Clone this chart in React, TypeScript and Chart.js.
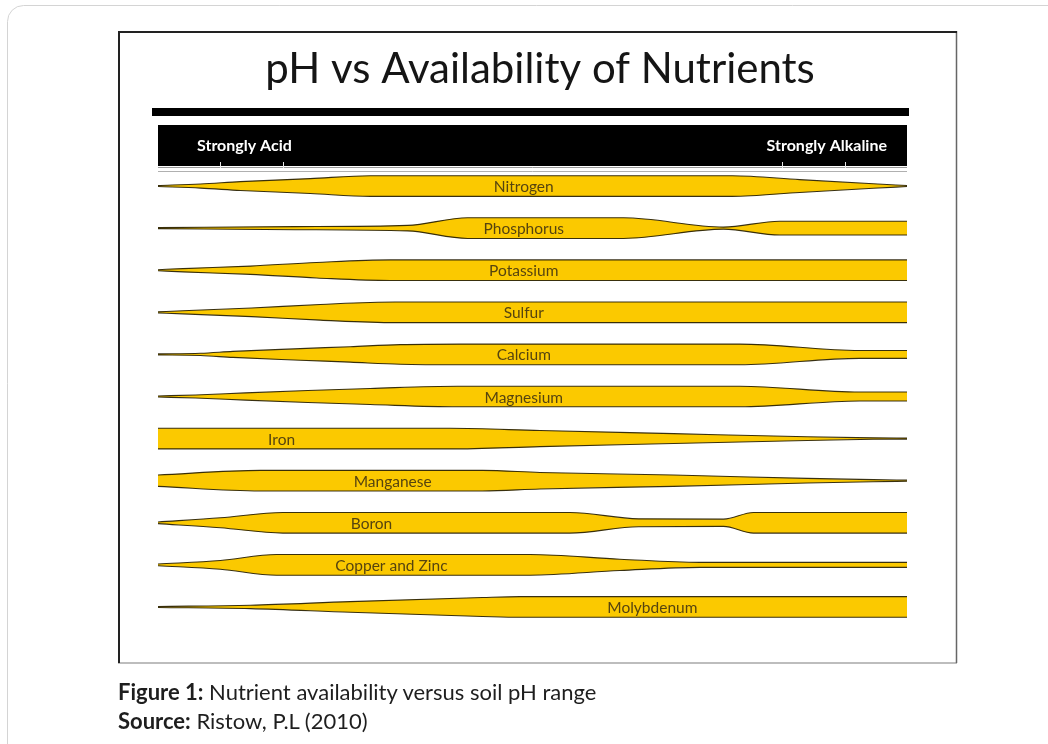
import React, { useEffect, useRef } from "react";
import { Chart, registerables } from "chart.js";
Chart.register(...registerables);

// ---- data ----
const nutrients = [
  "Nitrogen", "Phosphorus", "Potassium", "Sulfur", "Calcium", "Magnesium",
  "Iron", "Manganese", "Boron", "Copper and Zinc", "Molybdenum",
];
const phMin = 4;
const phMax = 10;
const phTicks = [4.5, 5, 9, 9.5];

// [pH, relative availability 0..1]
const nitrogen = [[4, 0.05], [4.34, 0.2], [4.66, 0.43], [5.22, 0.72], [5.7, 1], [8.6, 1], [9.14, 0.62], [9.73, 0.22], [10, 0.05]];
const phosphorus = [[4, 0.05], [5.1, 0.15], [6.0, 0.27], [6.48, 1], [7.73, 1], [8.53, 0.1], [8.98, 0.67], [10, 0.67]];
const potassium = [[4, 0.05], [4.2, 0.16], [4.74, 0.4], [5.27, 0.75], [5.86, 1], [10, 1]];
const sulfur = [[4, 0.05], [4.2, 0.15], [4.75, 0.42], [5.3, 0.76], [5.9, 1], [10, 1]];
const calcium = [[4, 0.05], [4.34, 0.11], [4.6, 0.29], [5.14, 0.56], [5.54, 0.75], [5.94, 0.95], [6.42, 1], [8.66, 1], [9.62, 0.38], [10, 0.38]];
const magnesium = [[4, 0.05], [4.3, 0.15], [4.7, 0.35], [5.2, 0.58], [5.7, 0.78], [6.4, 1], [8.66, 1], [9.62, 0.43], [10, 0.43]];
const iron = [[4, 1], [6.34, 1], [7.06, 0.78], [8.13, 0.48], [9.2, 0.18], [9.73, 0.07], [10, 0.05]];
const manganese = [[4, 0.55], [4.82, 1], [6.6, 1], [7.06, 0.8], [8.13, 0.55], [9.2, 0.22], [9.73, 0.1], [10, 0.05]];
const boron = [[4, 0.08], [4.5, 0.48], [5.0, 1], [7.3, 1], [7.85, 0.38], [8.53, 0.35], [8.77, 1], [10, 1]];
const copperZinc = [[4, 0.08], [4.5, 0.42], [4.95, 1], [6.98, 1], [7.7, 0.55], [8.34, 0.24], [10, 0.24]];
const molybdenum = [[4, 0.05], [4.74, 0.16], [5.54, 0.52], [6.6, 0.92], [6.9, 1], [10, 1]];

const profiles = [nitrogen, phosphorus, potassium, sulfur, calcium, magnesium, iron, manganese, boron, copperZinc, molybdenum];
const labelPH = [6.93, 6.93, 6.93, 6.93, 6.93, 6.93, 4.99, 5.88, 5.71, 5.87, 7.96];

const titleText = "pH vs Availability of Nutrients";
const headerLeft = "Strongly Acid";
const headerRight = "Strongly Alkaline";
const captionLabel = "Figure 1:";
const captionText = " Nutrient availability versus soil pH range";
const sourceLabel = "Source:";
const sourceText = " Ristow, P.L (2010)";

const YELLOW = "#FBC900";
const EDGE = "rgba(35,28,0,0.9)";
const HALF = 0.245;

const W = 1048;
const H = 744;

const framePlugin = {
  id: "frame",
  beforeDraw(chart: any) {
    const ctx = chart.ctx;
    const xs = chart.scales.x;
    ctx.save();
    ctx.fillStyle = "#fff";
    ctx.fillRect(0, 0, W, H);
    // outer rounded box
    ctx.strokeStyle = "#d4d4d4";
    ctx.lineWidth = 1;
    ctx.beginPath();
    ctx.roundRect(7.5, 5.5, 1100, 800, 16);
    ctx.stroke();
    // inner frame
    ctx.strokeStyle = "#bdbdbd";
    ctx.lineWidth = 2;
    ctx.beginPath();
    ctx.moveTo(118, 663); ctx.lineTo(957, 663);
    ctx.stroke();
    ctx.strokeStyle = "#666";
    ctx.lineWidth = 1.5;
    ctx.beginPath();
    ctx.moveTo(956.5, 31); ctx.lineTo(956.5, 663);
    ctx.stroke();
    ctx.strokeStyle = "#222";
    ctx.lineWidth = 2;
    ctx.beginPath();
    ctx.moveTo(119, 663); ctx.lineTo(119, 32); ctx.lineTo(957, 32);
    ctx.stroke();
    // title
    ctx.fillStyle = "#151515";
    ctx.font = "400 42px Lato";
    ctx.textAlign = "center";
    ctx.textBaseline = "alphabetic";
    ctx.fillText(titleText, 540, 83);
    // thick rule
    const l = xs.getPixelForValue(phMin);
    const r = xs.getPixelForValue(phMax);
    ctx.fillStyle = "#000";
    ctx.fillRect(l - 6, 108, r - l + 8, 8);
    // header bar
    ctx.fillRect(l, 125, r - l, 41);
    ctx.fillStyle = "#fff";
    ctx.font = "700 16px Lato";
    ctx.textBaseline = "middle";
    ctx.textAlign = "left";
    ctx.fillText(headerLeft, l + 39, 146);
    ctx.textAlign = "right";
    ctx.fillText(headerRight, r - 20, 146);
    // lines under header with ticks
    ctx.strokeStyle = "#9a9a9a";
    ctx.lineWidth = 1;
    ctx.beginPath();
    ctx.moveTo(l, 167.5); ctx.lineTo(r, 167.5);
    ctx.stroke();
    ctx.strokeStyle = "#b0b0b0";
    ctx.beginPath();
    ctx.moveTo(l, 171.5); ctx.lineTo(r, 171.5);
    ctx.stroke();
    ctx.strokeStyle = "#e8e8e8";
    phTicks.forEach((t) => {
      const x = Math.round(xs.getPixelForValue(t)) + 0.5;
      ctx.beginPath();
      ctx.moveTo(x, 162); ctx.lineTo(x, 168);
      ctx.stroke();
    });
    ctx.restore();
  },
  afterDatasetsDraw(chart: any) {
    const ctx = chart.ctx;
    const xs = chart.scales.x;
    const ys = chart.scales.y;
    ctx.save();
    ctx.fillStyle = "#56440f";
    ctx.font = "400 15.5px Lato";
    ctx.textAlign = "center";
    ctx.textBaseline = "middle";
    nutrients.forEach((n, i) => {
      ctx.fillText(n, xs.getPixelForValue(labelPH[i]), ys.getPixelForValue(i) + 1);
    });
    ctx.restore();
  },
};

export default function App() {
  const ref = useRef<HTMLCanvasElement | null>(null);
  useEffect(() => {
    if (!ref.current) return;
    const datasets: any[] = [];
    profiles.forEach((p, i) => {
      datasets.push({
        label: nutrients[i] + " upper",
        data: p.map(([x, a]) => ({ x, y: i - HALF * a })),
        borderColor: EDGE,
        borderWidth: 1.1,
        pointRadius: 0,
        fill: false,
        cubicInterpolationMode: "monotone",
      });
      datasets.push({
        label: nutrients[i] + " lower",
        data: p.map(([x, a]) => ({ x, y: i + HALF * a })),
        borderColor: EDGE,
        borderWidth: 1.1,
        pointRadius: 0,
        backgroundColor: YELLOW,
        fill: "-1",
        cubicInterpolationMode: "monotone",
      });
    });
    const chart = new Chart(ref.current, {
      type: "line",
      data: { datasets },
      options: {
        responsive: false,
        animation: false,
        devicePixelRatio: 1,
        layout: { padding: { left: 158, right: W - 907, top: 165, bottom: H - 628 } },
        scales: {
          x: { type: "linear", min: phMin, max: phMax, display: false },
          y: { type: "linear", min: -0.5, max: 10.5, reverse: true, display: false },
        },
        plugins: { legend: { display: false }, tooltip: { enabled: false }, title: { display: false } },
      },
      plugins: [framePlugin],
    } as any);
    return () => chart.destroy();
  }, []);

  const cap: React.CSSProperties = {
    position: "absolute",
    left: 118,
    fontFamily: "Lato, 'Open Sans', sans-serif",
    fontSize: 22,
    color: "#1e1e1e",
    whiteSpace: "nowrap",
    lineHeight: "28px",
  };
  return (
    <div style={{ position: "fixed", left: 0, top: 0, width: W, height: H, overflow: "hidden", background: "#fff" }}>
      <canvas ref={ref} width={W} height={H} style={{ position: "absolute", left: 0, top: 0, width: W, height: H }} />
      <div style={{ ...cap, top: 678 }}>
        <b>{captionLabel}</b>{captionText}
      </div>
      <div style={{ ...cap, top: 707 }}>
        <b>{sourceLabel}</b>{sourceText}
      </div>
    </div>
  );
}
